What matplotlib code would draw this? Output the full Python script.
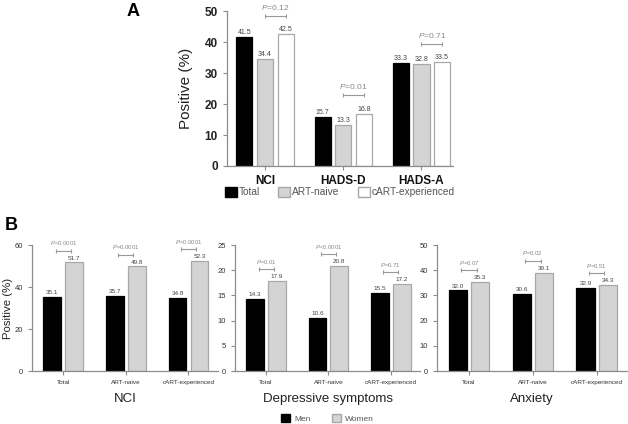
import matplotlib.pyplot as plt
from matplotlib.patches import Patch

plt.rcParams["font.family"] = ["Liberation Sans", "DejaVu Sans"]
plt.rcParams["mathtext.fontset"] = "custom"
plt.rcParams["mathtext.it"] = "Liberation Sans:italic"
plt.rcParams["mathtext.rm"] = "Liberation Sans"

# Panel A
a_groups = ["NCI", "HADS-D", "HADS-A"]
a_series = ["Total", "ART-naive", "cART-experienced"]
a_total = [41.5, 15.7, 33.3]
a_naive = [34.4, 13.3, 32.8]
a_cart = [42.5, 16.8, 33.5]
a_pvals = ["=0.12", "=0.01", "=0.71"]

# Panel B
b_groups = ["Total", "ART-naive", "cART-experienced"]
b_titles = ["NCI", "Depressive symptoms", "Anxiety"]
b_men = [[35.1, 35.7, 34.8], [14.3, 10.6, 15.5], [32.0, 30.6, 32.9]]
b_women = [[51.7, 49.8, 52.3], [17.9, 20.8, 17.2], [35.3, 39.1, 34.3]]
b_pvals = [["<0.0001", "=0.0001", "<0.0001"],
           ["=0.01", "<0.0001", "=0.71"],
           ["=0.07", "=0.02", "=0.51"]]
b_ymax = [60, 25, 50]
b_ystep = [20, 5, 10]

BLACK = "#000000"
GRAY = "#d4d4d4"
EDGE = "#a8a8a8"
SPINE = "#8c8c8c"
TXT = "#444444"


def style_axes(ax):
    for s in ("top", "right"):
        ax.spines[s].set_visible(False)
    for s in ("left", "bottom"):
        ax.spines[s].set_color(SPINE)
        ax.spines[s].set_linewidth(0.9)
    ax.tick_params(colors=SPINE, length=3, width=0.8)


def bracket(ax, x1, x2, y, label, fs):
    ax.plot([x1, x2], [y, y], color="#999999", lw=0.8, marker="|",
            markersize=3.5, markeredgewidth=0.8, clip_on=False)
    ax.text((x1 + x2) / 2, y + ax.get_ylim()[1] * 0.025, label,
            ha="center", va="bottom", fontsize=fs, color="#888888")


fig = plt.figure(figsize=(6.28, 4.24), dpi=100)

# ---- Panel A ----
axA = fig.add_axes([0.361, 0.6085, 0.36, 0.3655])
style_axes(axA)
w = 0.205
step = 0.263
xs = range(len(a_groups))
for k, (vals, fc, ec) in enumerate([(a_total, BLACK, BLACK),
                                    (a_naive, GRAY, EDGE),
                                    (a_cart, "white", EDGE)]):
    pos = [x + (k - 1) * step for x in xs]
    axA.bar(pos, vals, width=w, color=fc, edgecolor=ec, linewidth=0.9)
    for p, v in zip(pos, vals):
        axA.text(p, v + 0.4, f"{v:.1f}", ha="center", va="bottom",
                 fontsize=5, color=TXT)
axA.set_ylim(0, 50)
axA.set_xlim(-0.49, 2.40)
axA.set_yticks(range(0, 51, 10))
axA.set_xticks(list(xs))
axA.set_xticklabels(a_groups, fontsize=8.5, fontweight="bold", color="#111111")
for t in axA.get_yticklabels():
    t.set_fontsize(8.5)
    t.set_fontweight("bold")
    t.set_color("#222222")
axA.set_ylabel("Positive (%)", fontsize=11, color="#222222", labelpad=8)
for x, v1, v2, p in zip(xs, a_naive, a_cart, a_pvals):
    y = max(v1, v2) + 6
    bracket(axA, x, x + step, y, r"$\it{P}$" + p, 6)
fig.text(0.212, 0.972, "A", fontsize=13, fontweight="bold",
         ha="center", va="center")

handles = [Patch(facecolor=BLACK, edgecolor=BLACK),
           Patch(facecolor=GRAY, edgecolor=EDGE),
           Patch(facecolor="white", edgecolor=EDGE)]
fig.legend(handles, a_series, loc="center", bbox_to_anchor=(0.541, 0.547),
           ncol=3, frameon=False, fontsize=7.3, handlelength=1.2,
           handleheight=1.2, handletextpad=0.15, columnspacing=1.8,
           labelcolor="#555555")

# ---- Panel B ----
lefts = [0.051, 0.374, 0.696]
widths = [0.296, 0.295, 0.302]
bw = 0.286
off = 0.175
for i in range(3):
    ax = fig.add_axes([lefts[i], 0.125, widths[i], 0.297])
    style_axes(ax)
    xb = range(len(b_groups))
    ax.set_ylim(0, b_ymax[i])
    ax.set_xlim(-0.5, 2.47)
    for k, (vals, fc, ec) in enumerate([(b_men[i], BLACK, BLACK),
                                        (b_women[i], GRAY, EDGE)]):
        pos = [x + (2 * k - 1) * off for x in xb]
        ax.bar(pos, vals, width=bw, color=fc, edgecolor=ec, linewidth=0.9)
        for p, v in zip(pos, vals):
            ax.text(p, v + b_ymax[i] * 0.015, f"{v:.1f}", ha="center",
                    va="bottom", fontsize=4.6, color=TXT)
    for x, v1, v2, p in zip(xb, b_men[i], b_women[i], b_pvals[i]):
        y = max(v1, v2) + b_ymax[i] * 0.095
        bracket(ax, x - 0.12, x + 0.12, y, r"$\it{P}$" + p, 4.3)
    ax.set_yticks(range(0, b_ymax[i] + 1, b_ystep[i]))
    ax.set_xticks(list(xb))
    ax.set_xticklabels(b_groups, fontsize=4.6, color="#333333")
    ax.tick_params(axis="y", labelsize=5.5, labelcolor="#333333")
    ax.set_xlabel(b_titles[i], fontsize=9.5, color="#222222", labelpad=6)
    if i == 0:
        ax.set_ylabel("Positive (%)", fontsize=8.2, color="#222222",
                      labelpad=1)
fig.text(0.018, 0.469, "B", fontsize=13, fontweight="bold",
         ha="center", va="center")

handles = [Patch(facecolor=BLACK, edgecolor=BLACK),
           Patch(facecolor=GRAY, edgecolor=EDGE)]
fig.legend(handles, ["Men", "Women"], loc="center",
           bbox_to_anchor=(0.5215, 0.012), ncol=2, frameon=False,
           fontsize=6, handlelength=1.1, handleheight=1.1,
           handletextpad=0.5, columnspacing=2.5, labelcolor="#555555")

fig.savefig("out.png", dpi=100)
